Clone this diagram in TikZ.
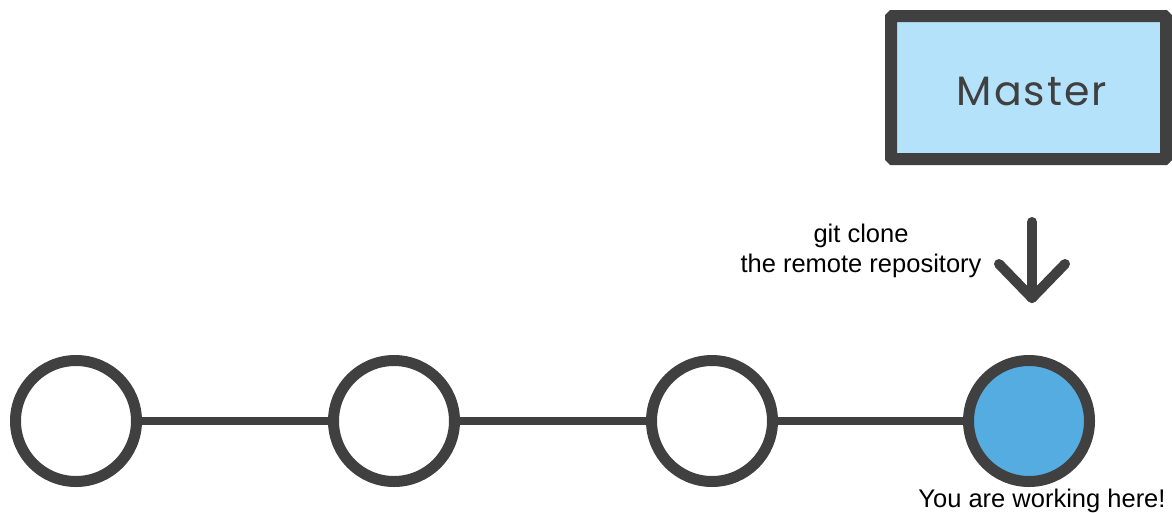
\documentclass[tikz,border=0pt]{standalone}
\usepackage{fontspec}
\setmainfont{Liberation Sans}
\newfontfamily\boxfont{Poppins}
\begin{document}
\begin{tikzpicture}[x=1pt,y=-1pt,
  commit/.style={circle,draw=inkgray,line width=11pt,minimum size=121pt,inner sep=0pt,fill=white},
  link/.style={draw=inkgray,line width=8pt},
  branchbox/.style={rectangle,draw=inkgray,line width=12pt,fill=boxblue,rounded corners=1.5pt,
    minimum width=275pt,minimum height=143pt,inner sep=0pt},
  pointer/.style={draw=inkgray,line width=10pt,line cap=round,line join=round},
  label/.style={font=\fontsize{25.5}{30}\selectfont,text=black,inner sep=0pt}]
\definecolor{inkgray}{HTML}{404040}
\definecolor{boxblue}{HTML}{B4E2FB}
\definecolor{headblue}{HTML}{55ACE0}
\useasboundingbox[fill=white] (0,0) rectangle (1172,512);

% remote branch
\node[branchbox] (master) at (1028.5,87.5) {};
\node[anchor=base,inner sep=0pt,text=inkgray,
  font=\boxfont\fontsize{41}{41}\selectfont] (mastertext) at (1032,105)
  {\addfontfeature{LetterSpace=5}Master};

% clone arrow
\coordinate (arrtop) at (1032,222);
\coordinate (arrtip) at (1032,298);
\coordinate (barbl) at (999,264);
\coordinate (barbr) at (1065,264);
\draw[pointer] (arrtop) -- (arrtip);
\draw[pointer] (barbl) -- (arrtip) -- (barbr);
\node[label,align=center] (clonetext) at (861,250.5) {git clone\\the remote repository};

% commit history
\node[commit] (c1) at (76,421) {};
\node[commit] (c2) at (394,421) {};
\node[commit] (c3) at (712,421) {};
\node[commit,fill=headblue] (c4) at (1029,421) {};
\draw[link] (c1) -- (c2);
\draw[link] (c2) -- (c3);
\draw[link] (c3) -- (c4);

\node[label,anchor=base] (heretext) at (1042,507) {You are working here!};
\end{tikzpicture}
\end{document}
